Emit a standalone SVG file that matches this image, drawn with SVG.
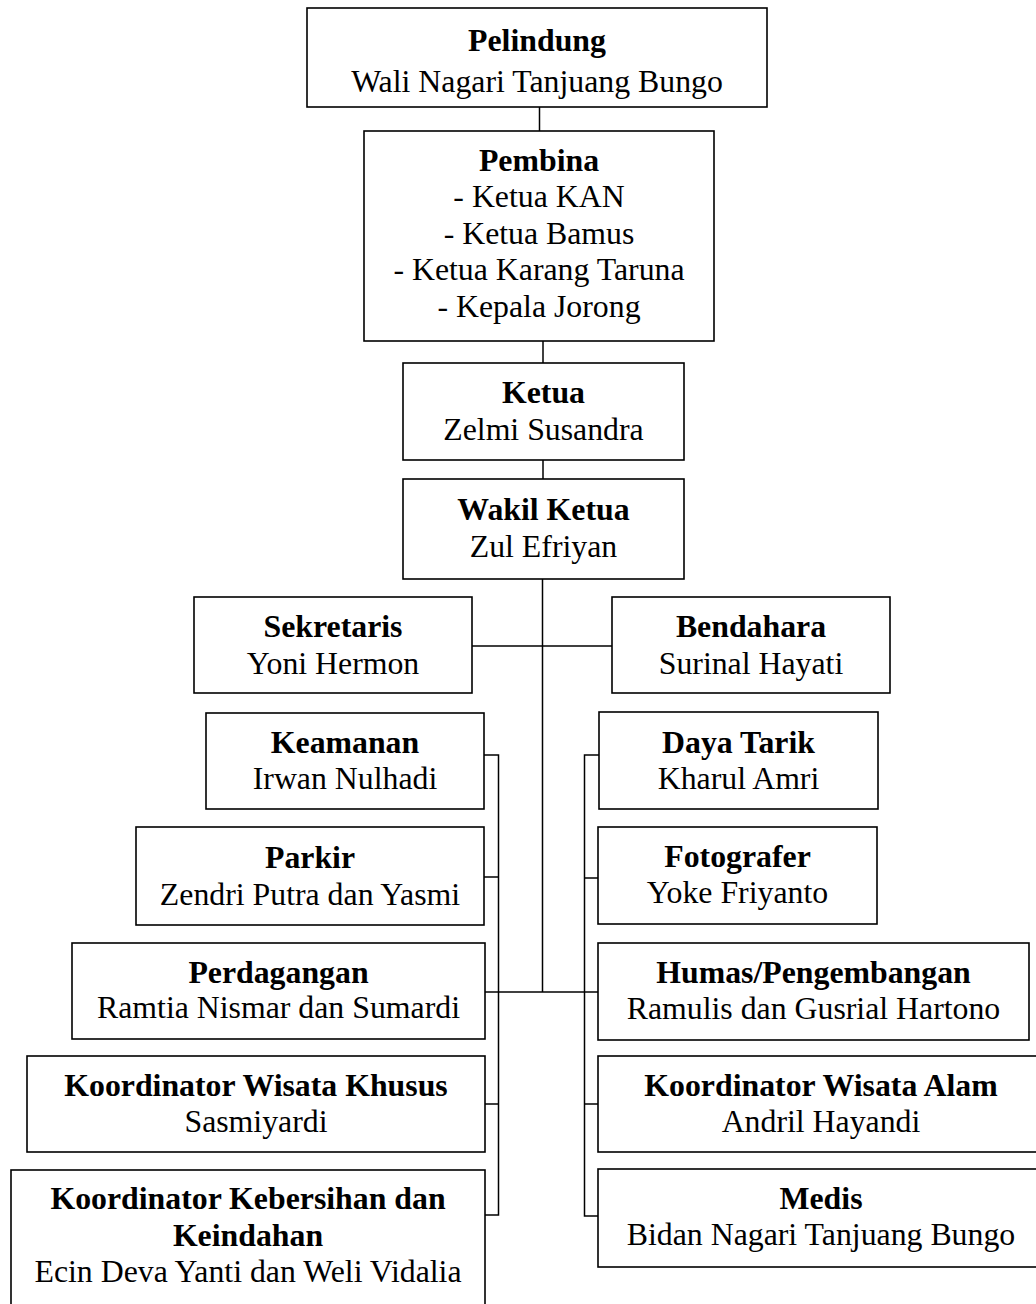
<svg xmlns="http://www.w3.org/2000/svg" width="1036" height="1304" viewBox="0 0 1036 1304">
<style>
rect.box{fill:#fff;stroke:#000;stroke-width:1.6}
text{font-family:"Liberation Serif","Times New Roman",serif;font-size:31.8px;fill:#000;text-anchor:middle}
text.t{font-weight:bold}
#connectors path{fill:none;stroke:#000;stroke-width:1.5}
</style>
<rect width="1036" height="1304" fill="#fff"/>
<g id="connectors">
<path d="M539.5 107V131"/>
<path d="M543 341V363"/>
<path d="M543 460V479"/>
<path d="M542.5 579V992"/>
<path d="M472 646H612"/>
<path d="M485 992H598"/>
<path d="M484 755H498.5V1215H484"/>
<path d="M484 877H498.5M484 1104H498.5"/>
<path d="M599 755H584.5V1216H599"/>
<path d="M584.5 878H599M584.5 1104H599"/>
</g>
<g id="pelindung">
<rect class="box" x="307" y="8" width="460" height="99"/>
<text class="t" x="537" y="51">Pelindung</text>
<text x="537" y="92">Wali Nagari Tanjuang Bungo</text>
</g>
<g id="pembina">
<rect class="box" x="364" y="131" width="350" height="210"/>
<text class="t" x="539" y="171">Pembina</text>
<text x="539" y="207">- Ketua KAN</text>
<text x="539" y="243.5">- Ketua Bamus</text>
<text x="539" y="280">- Ketua Karang Taruna</text>
<text x="539" y="316.5">- Kepala Jorong</text>
</g>
<g id="ketua">
<rect class="box" x="403" y="363" width="281" height="97"/>
<text class="t" x="543.5" y="403">Ketua</text>
<text x="543.5" y="440">Zelmi Susandra</text>
</g>
<g id="wakil-ketua">
<rect class="box" x="403" y="479" width="281" height="100"/>
<text class="t" x="543.5" y="520">Wakil Ketua</text>
<text x="543.5" y="557">Zul Efriyan</text>
</g>
<g id="sekretaris">
<rect class="box" x="194" y="597" width="278" height="96"/>
<text class="t" x="333" y="637">Sekretaris</text>
<text x="333" y="674">Yoni Hermon</text>
</g>
<g id="bendahara">
<rect class="box" x="612" y="597" width="278" height="96"/>
<text class="t" x="751" y="637">Bendahara</text>
<text x="751" y="674">Surinal Hayati</text>
</g>
<g id="keamanan">
<rect class="box" x="206" y="713" width="278" height="96"/>
<text class="t" x="345" y="753">Keamanan</text>
<text x="345" y="789">Irwan Nulhadi</text>
</g>
<g id="parkir">
<rect class="box" x="136" y="827" width="348" height="98"/>
<text class="t" x="310" y="868">Parkir</text>
<text x="310" y="905">Zendri Putra dan Yasmi</text>
</g>
<g id="perdagangan">
<rect class="box" x="72" y="943" width="413" height="96"/>
<text class="t" x="278.5" y="983">Perdagangan</text>
<text x="278.5" y="1018">Ramtia Nismar dan Sumardi</text>
</g>
<g id="koordinator-wisata-khusus">
<rect class="box" x="27" y="1056" width="458" height="96"/>
<text class="t" x="256" y="1096">Koordinator Wisata Khusus</text>
<text x="256" y="1132">Sasmiyardi</text>
</g>
<g id="koordinator-kebersihan">
<rect class="box" x="11" y="1170" width="474" height="140"/>
<text class="t" x="248" y="1209">Koordinator Kebersihan dan</text>
<text class="t" x="248" y="1246">Keindahan</text>
<text x="248" y="1282">Ecin Deva Yanti dan Weli Vidalia</text>
</g>
<g id="daya-tarik">
<rect class="box" x="599" y="712" width="279" height="97"/>
<text class="t" x="738.5" y="753">Daya Tarik</text>
<text x="738.5" y="789">Kharul Amri</text>
</g>
<g id="fotografer">
<rect class="box" x="598" y="827" width="279" height="97"/>
<text class="t" x="737.5" y="867">Fotografer</text>
<text x="737.5" y="903">Yoke Friyanto</text>
</g>
<g id="humas">
<rect class="box" x="598" y="943" width="431" height="97"/>
<text class="t" x="813.5" y="983">Humas/Pengembangan</text>
<text x="813.5" y="1019">Ramulis dan Gusrial Hartono</text>
</g>
<g id="koordinator-wisata-alam">
<rect class="box" x="598" y="1056" width="446" height="96"/>
<text class="t" x="821" y="1096">Koordinator Wisata Alam</text>
<text x="821" y="1132">Andril Hayandi</text>
</g>
<g id="medis">
<rect class="box" x="598" y="1169" width="446" height="98"/>
<text class="t" x="821" y="1209">Medis</text>
<text x="821" y="1245">Bidan Nagari Tanjuang Bungo</text>
</g>
</svg>
